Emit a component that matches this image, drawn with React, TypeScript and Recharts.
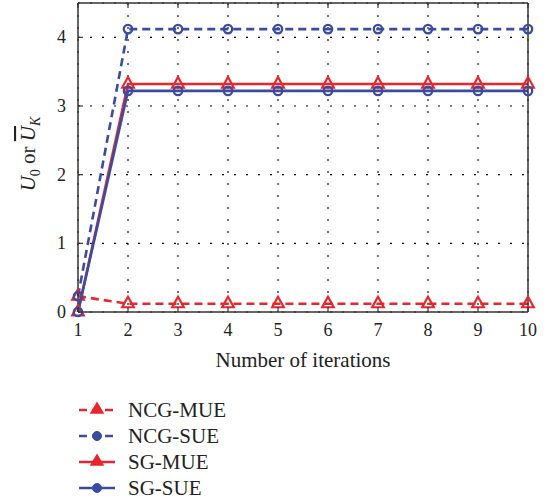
import React from 'react';
import { LineChart, Line, XAxis, YAxis, CartesianGrid } from 'recharts';

const iterations = [1, 2, 3, 4, 5, 6, 7, 8, 9, 10];
const ncgMue = [0.23, 0.12, 0.12, 0.12, 0.12, 0.12, 0.12, 0.12, 0.12, 0.12];
const ncgSue = [0.23, 4.12, 4.12, 4.12, 4.12, 4.12, 4.12, 4.12, 4.12, 4.12];
const sgMue = [0, 3.32, 3.32, 3.32, 3.32, 3.32, 3.32, 3.32, 3.32, 3.32];
const sgSue = [0, 3.22, 3.22, 3.22, 3.22, 3.22, 3.22, 3.22, 3.22, 3.22];
const yTicks = [0, 1, 2, 3, 4];
const seriesNames = ['NCG-MUE', 'NCG-SUE', 'SG-MUE', 'SG-SUE'];

const data = iterations.map((it, i) => ({
  it,
  ncgMue: ncgMue[i],
  ncgSue: ncgSue[i],
  sgMue: sgMue[i],
  sgSue: sgSue[i],
}));

const RED = '#e8262c';
const BLUE = '#3a4c9f';
const AXIS = '#333';
const FONT = '"Liberation Serif", "Times New Roman", serif';
const TICK_FS = 18;
const TITLE_FS = 21;

const Tri = (props: any) => {
  const { cx, cy } = props;
  if (cx == null || cy == null) return null;
  return (
    <path
      d={`M${cx},${cy - 7} L${cx + 5.8},${cy + 3.5} L${cx - 5.8},${cy + 3.5} Z`}
      fill="none"
      stroke={RED}
      strokeWidth={2.2}
    />
  );
};

const Circ = (props: any) => {
  const { cx, cy } = props;
  if (cx == null || cy == null) return null;
  return <circle cx={cx} cy={cy} r={4.2} fill="none" stroke={BLUE} strokeWidth={2.3} />;
};

const XTick = (props: any) => {
  const { x, y, payload } = props;
  return (
    <g>
      <line x1={x} x2={x} y1={y} y2={y - 5} stroke={AXIS} strokeWidth={1.2} />
      <text x={x} y={y + 24} textAnchor="middle" fontSize={TICK_FS} fontFamily={FONT} fill="#222">
        {payload.value}
      </text>
    </g>
  );
};

const XTopTick = (props: any) => {
  const { x, y } = props;
  return <line x1={x} x2={x} y1={y} y2={y + 5} stroke={AXIS} strokeWidth={1.2} />;
};

const YTick = (props: any) => {
  const { x, y, payload } = props;
  return (
    <g>
      <line x1={x} x2={x + 5} y1={y} y2={y} stroke={AXIS} strokeWidth={1.2} />
      <text x={x - 12} y={y + 6} textAnchor="end" fontSize={TICK_FS} fontFamily={FONT} fill="#222">
        {payload.value}
      </text>
    </g>
  );
};

const YRightTick = (props: any) => {
  const { x, y } = props;
  return <line x1={x} x2={x - 5} y1={y} y2={y} stroke={AXIS} strokeWidth={1.2} />;
};

const XTitle = (props: any) => {
  const vb = props.viewBox || {};
  const cx = (vb.x || 0) + (vb.width || 0) / 2;
  const y = (vb.y || 0) + 55;
  return (
    <text x={cx} y={y} textAnchor="middle" fontSize={TITLE_FS} fontFamily={FONT} fill="#222">
      Number of iterations
    </text>
  );
};

const YTitle = () => (
  <text transform="translate(35,154) rotate(-90)" textAnchor="middle" fontSize={TITLE_FS} fontFamily={FONT} fill="#222">
    <tspan fontStyle="italic">U</tspan>
    <tspan fontSize={14} dy={5}>0</tspan>
    <tspan dy={-5}> or </tspan>
    <tspan fontStyle="italic" textDecoration="overline">U</tspan>
    <tspan fontStyle="italic" fontSize={14} dy={5}>K</tspan>
  </text>
);

const legendStyles = [
  { color: RED, dash: '8 5', marker: 'tri' },
  { color: BLUE, dash: '8 5', marker: 'circ' },
  { color: RED, dash: undefined, marker: 'tri' },
  { color: BLUE, dash: undefined, marker: 'circ' },
];

const LegendBox = () => (
  <svg width={220} height={110} style={{ position: 'absolute', left: 70, top: 396 }}>
    {seriesNames.map((name, i) => {
      const s = legendStyles[i];
      const cy = 14 + i * 26;
      return (
        <g key={name}>
          <line x1={9} x2={45} y1={cy} y2={cy} stroke={s.color} strokeWidth={2.6} strokeDasharray={s.dash} />
          {s.marker === 'tri' ? (
            <path d={`M27,${cy - 7} L33,${cy + 3} L21,${cy + 3} Z`} fill={s.color} stroke={s.color} strokeWidth={1.5} />
          ) : (
            <circle cx={27} cy={cy} r={4.5} fill={s.color} stroke={s.color} />
          )}
          <text x={58} y={cy + 7} fontSize={21} fontFamily={FONT} fill="#222">
            {name}
          </text>
        </g>
      );
    })}
  </svg>
);

export default function App() {
  return (
    <div style={{ position: 'absolute', left: 0, top: 0, width: 546, height: 504, background: '#fff' }}>
      <LineChart
        width={546}
        height={504}
        data={data}
        margin={{ top: 0, right: 13, bottom: 152, left: 18 }}
      >
        <CartesianGrid stroke="#000" strokeDasharray="2 10" strokeWidth={1.1} />
        <XAxis
          dataKey="it"
          type="number"
          domain={[1, 10]}
          ticks={iterations}
          interval={0}
          height={40}
          tickSize={0}
          tickMargin={0}
          tick={<XTick />}
          tickLine={false}
          axisLine={{ stroke: AXIS, strokeWidth: 1.5 }}
          label={<XTitle />}
        />
        <XAxis
          xAxisId="top"
          orientation="top"
          dataKey="it"
          type="number"
          domain={[1, 10]}
          ticks={iterations}
          interval={0}
          height={3}
          tickSize={0}
          tickMargin={0}
          tick={<XTopTick />}
          tickLine={false}
          axisLine={{ stroke: AXIS, strokeWidth: 1.5 }}
        />
        <YAxis
          type="number"
          domain={[0, 4.5]}
          ticks={yTicks}
          interval={0}
          width={60}
          tickSize={0}
          tickMargin={0}
          tick={<YTick />}
          tickLine={false}
          axisLine={{ stroke: AXIS, strokeWidth: 1.5 }}
          label={<YTitle />}
        />
        <YAxis
          yAxisId="right"
          orientation="right"
          type="number"
          domain={[0, 4.5]}
          ticks={yTicks}
          interval={0}
          width={5}
          tickSize={0}
          tickMargin={0}
          tick={<YRightTick />}
          tickLine={false}
          axisLine={{ stroke: AXIS, strokeWidth: 1.5 }}
        />
        <Line
          dataKey="ncgMue"
          name={seriesNames[0]}
          stroke={RED}
          strokeWidth={2.6}
          strokeDasharray="8 5"
          dot={<Tri />}
          isAnimationActive={false}
        />
        <Line
          dataKey="sgMue"
          name={seriesNames[2]}
          stroke={RED}
          strokeWidth={2.6}
          dot={<Tri />}
          isAnimationActive={false}
        />
        <Line
          dataKey="ncgSue"
          name={seriesNames[1]}
          stroke={BLUE}
          strokeWidth={2.6}
          strokeDasharray="8 5"
          dot={<Circ />}
          isAnimationActive={false}
        />
        <Line
          dataKey="sgSue"
          name={seriesNames[3]}
          stroke={BLUE}
          strokeWidth={2.6}
          dot={<Circ />}
          isAnimationActive={false}
        />
      </LineChart>
      <LegendBox />
    </div>
  );
}
